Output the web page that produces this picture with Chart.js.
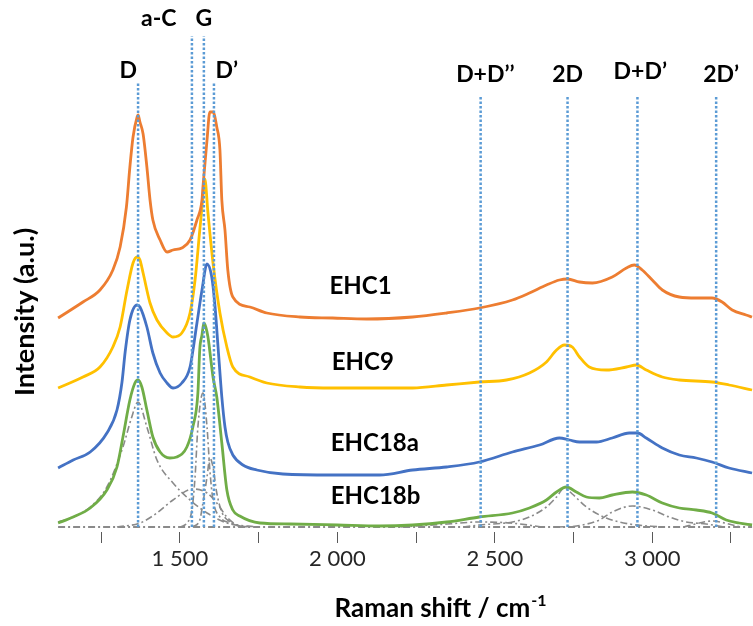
<!DOCTYPE html>
<html><head><meta charset="utf-8">
<script src="https://cdn.jsdelivr.net/npm/chart.js@4.4.1/dist/chart.umd.min.js"></script>
<style>html,body{margin:0;padding:0;background:#fff;}canvas{display:block;}</style>
</head><body>
<canvas id="c" width="753" height="626"></canvas>
<script>
// ---- data (Raman shift in cm-1, intensity in arbitrary units, stacked offsets as in the figure) ----
const ehc1X = [1113,1192,1246,1287,1310,1330,1341,1351,1364,1367,1373,1383,1395,1405,1414,1437,1459,1478,1506,1532,1554,1570,1573,1586,1595,1605,1617,1627,1633,1643,1652,1668,1722,1776,1881,1985,2093,2239,2347,2451,2556,2610,2664,2705,2731,2769,2810,2873,2918,2943,2968,3000,3032,3086,3140,3190,3222,3254,3298,3317];
const ehc1Y = [209,225,237,257,280,320,360,390,410,412,405,393,360,327,307,287,275,277,279,287,307,327,340,387,415,415,400,377,327,297,257,230,220,214,210,209,208,210,214,219,227,234,242,247,248,245,244,250,259,262,257,247,237,230,229,229,225,217,212,210];

const ehc9X = [1113,1192,1246,1287,1310,1332,1351,1364,1373,1383,1405,1427,1459,1478,1506,1532,1548,1563,1573,1579,1589,1605,1627,1649,1668,1722,1776,1881,1985,2093,2239,2347,2451,2537,2610,2664,2696,2721,2746,2769,2800,2854,2918,2950,2981,3032,3086,3190,3244,3317];
const ehc9Y = [139,150,160,180,200,237,264,270,267,254,224,207,194,190,194,214,247,297,330,348,314,264,214,180,160,150,144,140,139,139,139,142,145,147,154,165,177,182,180,170,160,157,160,162,157,150,147,145,142,137];

const ehc18aX = [1113,1161,1215,1268,1300,1316,1326,1341,1364,1373,1395,1414,1437,1459,1478,1506,1532,1554,1570,1586,1601,1611,1621,1633,1643,1652,1668,1700,1744,1827,1985,2134,2239,2347,2451,2556,2642,2705,2737,2769,2823,2873,2927,2953,2981,3032,3086,3140,3190,3244,3317];
const ehc18aY = [59,67,75,94,117,145,175,207,222,220,200,174,154,144,139,144,160,204,237,263,250,222,180,130,100,85,72,62,57,53,52,52,57,60,65,75,82,89,87,85,85,89,94,94,89,79,72,69,65,59,54];

const ehc18bX = [1113,1161,1215,1268,1300,1319,1341,1357,1367,1379,1395,1414,1437,1468,1490,1522,1541,1557,1563,1570,1576,1582,1589,1605,1617,1633,1649,1668,1690,1754,1850,2000,2134,2239,2347,2451,2556,2610,2664,2696,2727,2759,2791,2832,2873,2937,2981,3032,3086,3140,3190,3235,3276,3317];
const ehc18bY = [4,10,19,37,60,90,127,144,147,140,117,90,75,69,70,80,100,134,178,192,204,200,190,150,130,84,37,17,11,4,3,2,1,2,5,10,14,19,27,35,40,35,30,29,32,35,32,24,19,17,14,7,4,2];

// fitted components of EHC18b
const fitDX = [1113,1161,1215,1268,1319,1345,1367,1395,1427,1478,1532,1586,1649,1750];
const fitDY = [5,10,20,40,80,108,125,100,67,44,27,14,4,0];
const fitAcX = [1300,1373,1427,1478,1541,1586,1617,1649,1681,1720];
const fitAcY = [0,4,14,27,38,34,24,10,2,0];
const fitGX = [1500,1522,1538,1548,1557,1573,1586,1595,1605,1627,1659,1700];
const fitGY = [0,4,17,50,100,134,100,57,27,10,4,0];
const fitDpX = [1540,1563,1573,1586,1595,1605,1617,1633,1659,1700];
const fitDpY = [0,7,24,50,69,60,34,15,5,0];
const fitDDppX = [2200,2350,2450,2550,2650];
const fitDDppY = [0,3,5,4,0];
const fit2DX = [2400,2451,2556,2610,2664,2696,2721,2746,2791,2854,2927,3032];
const fit2DY = [0,2,5,10,20,30,39,33,20,9,3,0];
const fitDDpX = [2700,2759,2832,2873,2937,3000,3054,3108,3171,3230];
const fitDDpY = [0,1,7,15,21,17,10,5,3,0];
const fit2DpX = [3100,3150,3190,3230,3280];
const fit2DpY = [0,4,6,4,0];
const baseX = [1113,3317];
const baseY = [0,0];

// band positions and names
const bandPos = [1367,1538,1576,1608,2455,2731,2953,3203];
const bandTop = [444,491,491,444,430,430,430,430];
const bandNames = ['D','a-C','G','D\u2019','D+D\u2019\u2019','2D','D+D\u2019','2D\u2019'];
const seriesNames = ['EHC1','EHC9','EHC18a','EHC18b'];

// axis ticks
const tickValues = [1250,1500,1750,2000,2250,2500,2750,3000,3250];
const tickLabels = ['','1 500','','2 000','','2 500','','3 000',''];

// ---- annotation layout (not data) ----
const bandLabelAt = [[1336,456],[1433,508],[1576,508],[1649,456],[2470,452],[2731,452],[2962,455],[3219,452]];
const seriesLabelAt = [[1975,241],[1982,165],[1979,84],[1979,31]];

const zip = (xs, ys) => xs.map((v, i) => ({x: v, y: ys[i]}));

const FONT = 'Lato';
const datasets = [];
bandPos.forEach((p, i) => {
  datasets.push({data: zip([p, p], [0, bandTop[i]]), borderColor: '#5B9BD5', borderWidth: 2.5,
    borderDash: [2.5, 2], pointRadius: 0, order: 0, tension: 0});
});
const series = [[ehc1X, ehc1Y, '#ED7D31'], [ehc9X, ehc9Y, '#FFC000'], [ehc18aX, ehc18aY, '#4472C4'], [ehc18bX, ehc18bY, '#70AD47']];
series.forEach(s => datasets.push({data: zip(s[0], s[1]), borderColor: s[2], borderWidth: 2.8,
  pointRadius: 0, order: 1, cubicInterpolationMode: 'monotone'}));
const fits = [[fitDX, fitDY], [fitAcX, fitAcY], [fitGX, fitGY], [fitDpX, fitDpY], [fitDDppX, fitDDppY],
  [fit2DX, fit2DY], [fitDDpX, fitDDpY], [fit2DpX, fit2DpY], [baseX, baseY]];
fits.forEach((f, i) => datasets.push({data: zip(f[0], f[1]), borderColor: '#8A8A8A', borderWidth: i === fits.length - 1 ? 2 : 1.6,
  borderDash: [7, 3, 2, 3], pointRadius: 0, order: 2, cubicInterpolationMode: 'monotone'}));

const textPlugin = {
  id: 'texts',
  afterDatasetsDraw(chart) {
    const {ctx, scales: {x, y}} = chart;
    ctx.save();
    ctx.fillStyle = '#000';
    ctx.textBaseline = 'middle';
    ctx.font = 'bold 23px ' + FONT;
    ctx.textAlign = 'center';
    bandNames.forEach((t, i) => ctx.fillText(t, x.getPixelForValue(bandLabelAt[i][0]), y.getPixelForValue(bandLabelAt[i][1])));
    ctx.textAlign = 'left';
    ctx.font = 'bold 24px ' + FONT;
    seriesNames.forEach((t, i) => ctx.fillText(t, x.getPixelForValue(seriesLabelAt[i][0]), y.getPixelForValue(seriesLabelAt[i][1])));
    // axis titles
    ctx.font = 'bold 26px ' + FONT;
    const main = 'Raman shift / cm';
    const w = ctx.measureText(main).width;
    ctx.font = 'bold 16px ' + FONT;
    const ws = ctx.measureText('-1').width;
    const x0 = 440 - (w + ws) / 2;
    ctx.font = 'bold 26px ' + FONT;
    ctx.fillText(main, x0, 609);
    ctx.font = 'bold 16px ' + FONT;
    ctx.fillText('-1', x0 + w + 1, 601);
    ctx.translate(25, 312);
    ctx.rotate(-Math.PI / 2);
    ctx.textAlign = 'center';
    ctx.font = 'bold 27px ' + FONT;
    ctx.fillText('Intensity (a.u.)', 0, 0);
    ctx.restore();
  }
};

new Chart(document.getElementById('c'), {
  type: 'line',
  data: {datasets},
  plugins: [textPlugin],
  options: {
    responsive: false, animation: false, devicePixelRatio: 1,
    layout: {padding: {left: 54, top: 27, right: 0, bottom: 0}},
    plugins: {legend: {display: false}, tooltip: {enabled: false}},
    elements: {line: {fill: false}},
    scales: {
      x: {
        type: 'linear', min: 1100, max: 3320,
        afterBuildTicks: s => { s.ticks = tickValues.map(v => ({value: v})); },
        afterFit: s => { s.height = 94; },
        border: {display: false},
        grid: {drawOnChartArea: false, drawTicks: true, tickLength: 11, color: '#595959', lineWidth: 1},
        ticks: {autoSkip: false, maxRotation: 0, padding: 3, color: '#262626',
          font: {family: FONT, size: 22}, callback: (v, i) => tickLabels[i]}
      },
      y: {type: 'linear', display: false, min: -5, max: 500}
    }
  }
});
</script>
</body></html>
